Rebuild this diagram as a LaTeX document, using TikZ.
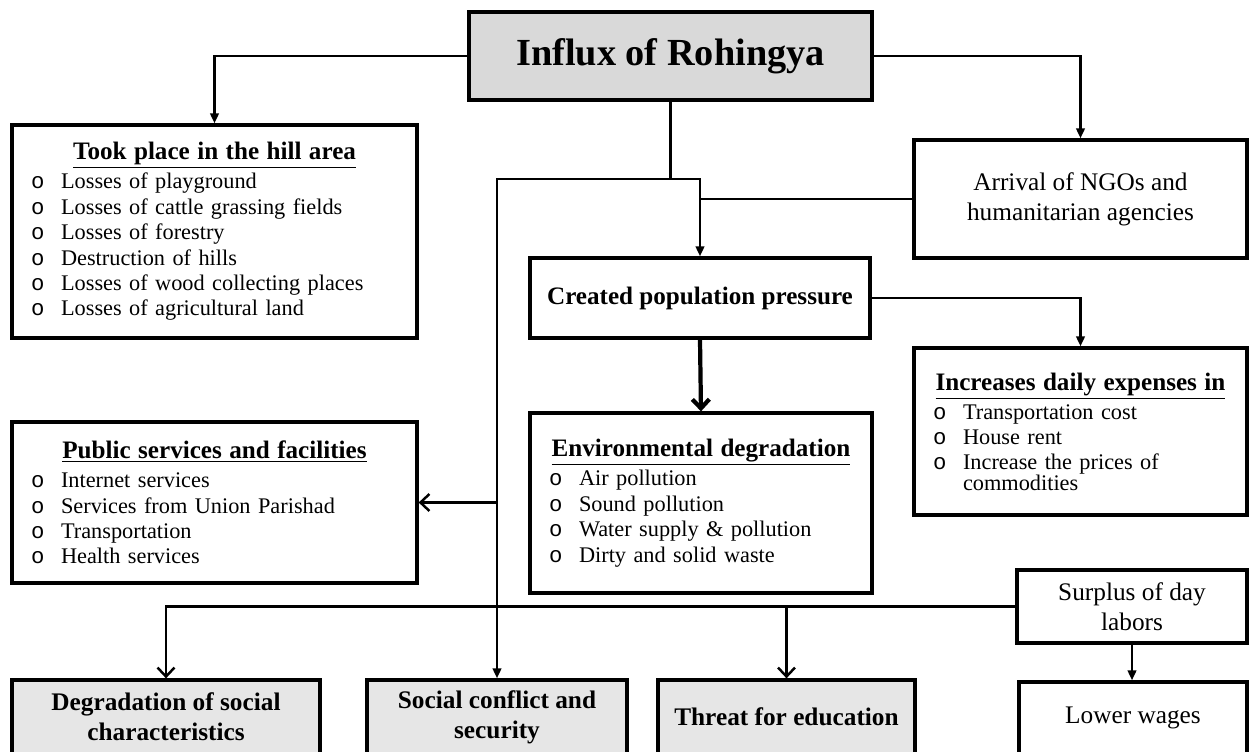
\documentclass[tikz,border=0pt]{standalone}
\usepackage{fontspec}
\setmainfont{Liberation Serif}
\newfontfamily\bulletfont{Liberation Mono}
\usetikzlibrary{arrows.meta,positioning,calc}
\definecolor{shade}{HTML}{D9D9D9}
\definecolor{pale}{HTML}{E6E6E6}
\newcommand{\itemsize}{\fontsize{12.7pt}{14.5pt}\selectfont}
\newcommand{\bigsize}{\fontsize{14.4pt}{17pt}\selectfont}
\newcommand{\itm}[1]{\makebox[0.6cm][l]{\bulletfont o}#1}
\newcommand{\hd}[1]{\hspace*{\fill}{\fontsize{14.3pt}{14.5pt}\selectfont\bfseries\underline{#1}}\hspace*{\fill}\null\\[2pt]}
\tikzset{box/.style={draw=black,line width=1.9pt,align=center,font=\bigsize,inner sep=0pt},listbox/.style={box,align=left,font=\itemsize,inner xsep=0.38cm},flow/.style={-{Triangle[length=2mm,width=1.7mm]},line width=1.4pt},vflow/.style={-{Straight Barb[length=1.8mm,width=3.4mm]},line width=1.4pt}}

\begin{document}
\begin{tikzpicture}[x=0.02cm,y=-0.02cm]
\useasboundingbox (0,0) rectangle (1255,751);
\node[box,fill=shade,minimum width=8.06cm,minimum height=1.76cm,font=\fontsize{21.8pt}{24pt}\selectfont\bfseries] (influx) at (670.5,56) {Influx of Rohingya};
\node[listbox,minimum width=8.1cm,minimum height=4.26cm,text width=7.34cm] (hill) at (214.5,231.5) {\hd{Took place in the hill area}\itm{Losses of playground}\\\itm{Losses of cattle grassing fields}\\\itm{Losses of forestry}\\\itm{Destruction of hills}\\\itm{Losses of wood collecting places}\\\itm{Losses of agricultural land}};
\node[box,minimum width=6.66cm,minimum height=2.36cm] (ngo) at (1080.5,199) {Arrival of NGOs and\\humanitarian agencies};
\node[box,minimum width=6.8cm,minimum height=1.6cm,font=\fontsize{14.3pt}{17pt}\selectfont\bfseries] (pop) at (700,298) {Created population pressure};
\node[listbox,minimum width=6.66cm,minimum height=3.34cm,text width=5.9cm] (expense) at (1080.5,431.5) {\hd{Increases daily expenses in}\itm{Transportation cost}\\\itm{House rent}\\\itm{Increase the prices of}\\[-3pt]\hspace*{0.6cm}commodities\\[8pt]};
\node[listbox,minimum width=6.84cm,minimum height=3.6cm,text width=6.08cm] (env) at (701,503) {\hd{Environmental degradation}\itm{Air pollution}\\\itm{Sound pollution}\\\itm{Water supply \& pollution}\\\itm{Dirty and solid waste}};
\node[listbox,minimum width=8.1cm,minimum height=3.22cm,text width=7.34cm] (public) at (214.5,502.5) {\hd{Public services and facilities}\itm{Internet services}\\\itm{Services from Union Parishad}\\\itm{Transportation}\\\itm{Health services}};
\node[box,minimum width=4.6cm,minimum height=1.46cm] (surplus) at (1132,606.5) {Surplus of day\\labors};
\node[box,fill=pale,minimum width=6.16cm,minimum height=1.48cm,font=\bigsize\bfseries] (social) at (166,717) {Degradation of social\\characteristics};
\node[box,fill=pale,minimum width=5.2cm,minimum height=1.48cm,font=\bigsize\bfseries] (conflict) at (497,717) {Social conflict and\\security};
\node[box,fill=pale,minimum width=5.14cm,minimum height=1.48cm,font=\bigsize\bfseries] (edu) at (786.5,717) {Threat for education};
\node[box,minimum width=4.56cm,minimum height=1.44cm] (wages) at (1133,718) {Lower wages};
\coordinate (split) at (influx.south |- 0,179);
\draw[flow](influx.west)-|(hill.north);\draw[flow](influx.east)-|(ngo.north);
\draw[line width=1.4pt](influx.south)--(split);
\draw[flow](split)-|(conflict.north);\draw[flow](split)-|(pop.north);
\draw[line width=1.4pt](ngo.west)--(ngo.west-|pop.north);
\draw[flow](pop.east)-|(expense.north);
\draw[vflow,line width=2.4pt](pop.south)--(env.north);
\draw[vflow](conflict.north|-public.east)--(public.east);
\draw[vflow](surplus.west)-|(social.north);
\draw[vflow](edu.north|-surplus.west)--(edu.north);
\draw[flow](surplus.south)--(surplus.south|-wages.north);
\end{tikzpicture}
\end{document}
